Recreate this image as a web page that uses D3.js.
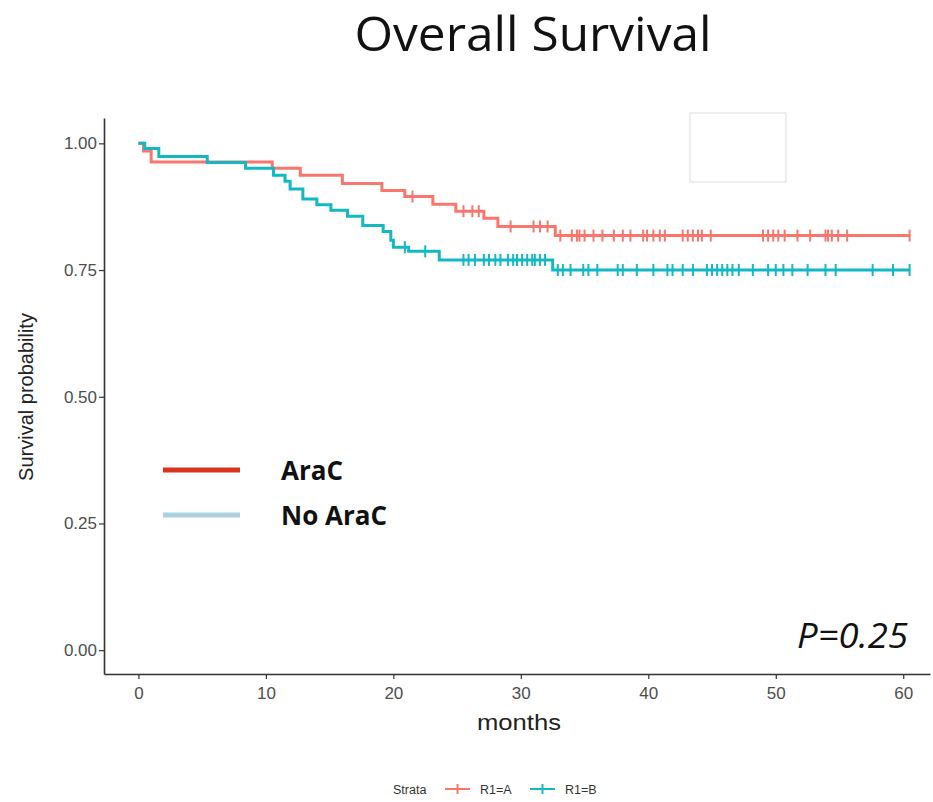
<!DOCTYPE html>
<html>
<head>
<meta charset="utf-8">
<script src="https://cdn.jsdelivr.net/npm/d3@7"></script>
<style>
  body { margin: 0; background: #fff; }
  svg { display: block; }
</style>
</head>
<body>
<svg id="drawing_region" width="933" height="802"></svg>
<script>
// step curves: event time (months) and survival after it
var araCTimes = [0, 0.4, 1.0, 10.5, 12.7, 16.0, 19.1, 20.9, 23.1, 24.9, 27.1, 28.2, 32.7];
var araCSurv  = [1.0, 0.985, 0.963, 0.951, 0.937, 0.921, 0.907, 0.895, 0.88, 0.866, 0.852, 0.836, 0.818];
var araCCensor = [21.5, 25.5, 26.2, 26.7, 29.2, 31.0, 31.5, 32.1,
  33.1, 34.0, 34.4, 34.6, 35.0, 35.7, 36.4, 37.3, 38.0, 38.6, 39.6, 39.9, 40.4, 40.9, 41.3,
  42.7, 43.1, 43.5, 43.9, 44.2, 44.9, 49.0, 49.4, 49.8, 50.2, 50.7, 51.7, 52.7, 53.9, 54.1,
  54.4, 54.9, 55.6, 60.5];

var noAraCTimes = [0, 0.5, 1.6, 5.4, 8.4, 10.6, 11.5, 11.9, 12.9, 14.0, 15.1, 16.4, 17.6, 19.2, 19.8, 20.0, 21.2, 23.6, 32.5];
var noAraCSurv  = [1.0, 0.99, 0.974, 0.962, 0.951, 0.937, 0.925, 0.91, 0.89, 0.879, 0.868, 0.856, 0.838, 0.826, 0.809, 0.795, 0.787, 0.77, 0.75];
var noAraCCensor = [20.9, 22.5, 25.5, 25.9, 26.4, 27.1, 27.5, 28.0, 28.4, 29.0, 29.4, 29.7, 30.1,
  30.5, 30.9, 31.1, 31.5, 31.9, 32.9, 33.3, 33.9, 34.9, 35.3, 36.0, 37.6, 38.0, 39.1, 40.4,
  41.5, 41.9, 42.7, 43.5, 44.6, 45.0, 45.4, 45.8, 46.2, 46.6, 47.1, 48.2, 49.4, 50.0, 50.6,
  51.3, 52.5, 53.9, 54.7, 57.6, 59.2, 60.5];

var lastTime = 60.5;
var xTicks = [0, 10, 20, 30, 40, 50, 60];
var yTicks = [0, 0.25, 0.5, 0.75, 1.0];

var svg = d3.select('#drawing_region');

var x = d3.scaleLinear().domain([-2.7, 62.1]).range([104, 930]);
var y = d3.scaleLinear().domain([-0.047, 1.05]).range([674, 118]);

// title
svg.append('text')
    .attr('x', 533).attr('y', 51)
    .attr('text-anchor', 'middle')
    .attr('font-family', 'Open Sans')
    .attr('font-size', 47)
    .attr('textLength', 357)
    .attr('lengthAdjust', 'spacingAndGlyphs')
    .attr('fill', '#111')
    .text('Overall Survival');

// faint box top right
svg.append('rect')
    .attr('x', 690).attr('y', 113).attr('width', 96).attr('height', 69)
    .attr('fill', '#fff').attr('stroke', '#ddd').attr('stroke-width', 1);

// axes
var xAxis = d3.axisBottom(x).tickValues(xTicks).tickSize(5).tickSizeOuter(0).tickFormat(d3.format('d'));
var yAxis = d3.axisLeft(y).tickValues(yTicks).tickSize(5).tickSizeOuter(0).tickFormat(d3.format('.2f'));

var gx = svg.append('g').attr('transform', 'translate(0,674)').call(xAxis);
var gy = svg.append('g').attr('transform', 'translate(104,0)').call(yAxis);

[gx, gy].forEach(g => {
    g.select('.domain').attr('stroke', '#333').attr('stroke-width', 1.6);
    g.selectAll('.tick line').attr('stroke', '#333').attr('stroke-width', 1.2);
    g.selectAll('.tick text')
        .attr('font-family', 'Liberation Sans')
        .attr('font-size', 17)
        .attr('fill', '#4d4d4d');
});
gx.selectAll('.tick text').attr('dy', '1.0em');
gy.selectAll('.tick text').attr('x', -7);

svg.append('text')
    .attr('x', 519).attr('y', 730)
    .attr('text-anchor', 'middle')
    .attr('font-family', 'Liberation Sans')
    .attr('font-size', 22)
    .attr('textLength', 84)
    .attr('lengthAdjust', 'spacingAndGlyphs')
    .attr('fill', '#222')
    .text('months');

svg.append('text')
    .attr('transform', 'translate(33,397) rotate(-90)')
    .attr('text-anchor', 'middle')
    .attr('font-family', 'Liberation Sans')
    .attr('font-size', 20)
    .attr('fill', '#222')
    .text('Survival probability');

// survival curves
function stepPoints(times, surv) {
    var pts = times.map((t, i) => [t, surv[i]]);
    pts.push([lastTime, surv[surv.length - 1]]);
    return pts;
}
function survAt(times, surv, t) {
    var s = surv[0];
    for (var i = 0; i < times.length; i++) if (times[i] <= t) s = surv[i];
    return s;
}

var line = d3.line().x(d => x(d[0])).y(d => y(d[1])).curve(d3.curveStepAfter);

var series = [
    { times: araCTimes, surv: araCSurv, censor: araCCensor, color: '#F8766D' },
    { times: noAraCTimes, surv: noAraCSurv, censor: noAraCCensor, color: '#13B8C2' }
];

series.forEach(s => {
    svg.append('path')
        .datum(stepPoints(s.times, s.surv))
        .attr('fill', 'none')
        .attr('stroke', s.color)
        .attr('stroke-width', 3)
        .attr('d', line);

    svg.append('g').selectAll('line')
        .data(s.censor)
        .join('line')
        .attr('x1', d => x(d)).attr('x2', d => x(d))
        .attr('y1', d => y(survAt(s.times, s.surv, d)) - 6)
        .attr('y2', d => y(survAt(s.times, s.surv, d)) + 6)
        .attr('stroke', s.color)
        .attr('stroke-width', 2);
});

// in-plot legend
var inLegend = [
    { label: 'AraC', color: '#d9331f', y: 470 },
    { label: 'No AraC', color: '#a9d2de', y: 515 }
];
inLegend.forEach(d => {
    svg.append('line')
        .attr('x1', 163).attr('x2', 240).attr('y1', d.y).attr('y2', d.y)
        .attr('stroke', d.color).attr('stroke-width', 5);
    svg.append('text')
        .attr('x', 281).attr('y', d.y + 10)
        .attr('font-family', 'Open Sans')
        .attr('font-weight', 'bold')
        .attr('font-size', 26)
        .attr('fill', '#111')
        .text(d.label);
});

// p value
svg.append('text')
    .attr('x', 908).attr('y', 648)
    .attr('text-anchor', 'end')
    .attr('font-family', 'Open Sans')
    .attr('font-style', 'italic')
    .attr('font-size', 34)
    .attr('textLength', 111)
    .attr('lengthAdjust', 'spacingAndGlyphs')
    .attr('fill', '#111')
    .text('P=0.25');

// bottom legend
var strata = [
    { label: 'R1=A', color: '#F8766D', x: 445 },
    { label: 'R1=B', color: '#13B8C2', x: 530 }
];
svg.append('text')
    .attr('x', 393).attr('y', 794)
    .attr('font-family', 'Liberation Sans')
    .attr('font-size', 12.5)
    .attr('fill', '#333')
    .text('Strata');
strata.forEach(d => {
    svg.append('line')
        .attr('x1', d.x).attr('x2', d.x + 25).attr('y1', 789).attr('y2', 789)
        .attr('stroke', d.color).attr('stroke-width', 2);
    svg.append('line')
        .attr('x1', d.x + 12.5).attr('x2', d.x + 12.5).attr('y1', 784).attr('y2', 794)
        .attr('stroke', d.color).attr('stroke-width', 2);
    svg.append('text')
        .attr('x', d.x + 35).attr('y', 794)
        .attr('font-family', 'Liberation Sans')
        .attr('font-size', 12.5)
        .attr('fill', '#333')
        .text(d.label);
});
</script>
</body>
</html>
